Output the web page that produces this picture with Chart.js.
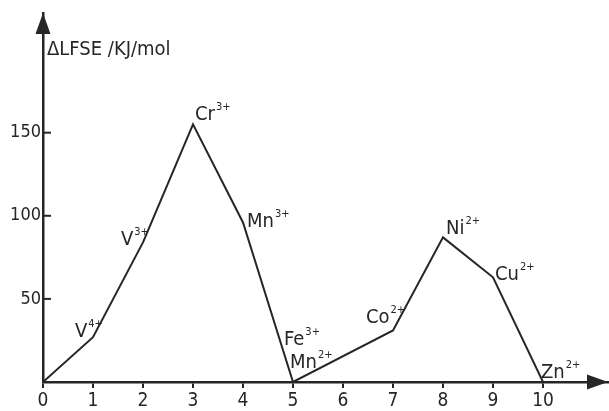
<!DOCTYPE html>
<html>
<head>
<meta charset="utf-8">
<script src="https://cdn.jsdelivr.net/npm/chart.js@4"></script>
<style>
  html, body { margin: 0; padding: 0; background: #fff; }
  #wrap { width: 609px; height: 411px; position: relative; }
</style>
</head>
<body>
<div id="wrap"><canvas id="myChart"></canvas></div>
<script>
// d-electron count of the ions vs. ligand field stabilisation energy
const electronCounts = [0, 1, 2, 3, 4, 5, 7, 8, 9, 10];
const lfseValues = [0, 27, 84, 155, 96, 0, 31, 87, 63, 0];
const ionSymbols = ['', 'V', 'V', 'Cr', 'Mn', ['Fe', 'Mn'], 'Co', 'Ni', 'Cu', 'Zn'];
const ionCharges = ['', '4+', '3+', '3+', '3+', ['3+', '2+'], '2+', '2+', '2+', '2+'];
const xTickValues = [0, 1, 2, 3, 4, 5, 6, 7, 8, 9, 10];
const yTickValues = [50, 100, 150];
const yAxisTitle = 'ΔLFSE /KJ/mol';

// label placement relative to its point (pixels)
const labelOffsets = [
    null,
    [{ dx: -18, dy: 0 }],
    [{ dx: -22, dy: 3 }],
    [{ dx: 2, dy: -4 }],
    [{ dx: 4, dy: 5 }],
    [{ dx: -9, dy: -37 }, { dx: -3, dy: -14 }],
    [{ dx: -27, dy: -7 }],
    [{ dx: 3, dy: -3 }],
    [{ dx: 2, dy: 3 }],
    [{ dx: -2, dy: -4 }]
];

const ink = '#262626';
const fontFamily = '"DejaVu Sans Condensed", "DejaVu Sans", sans-serif';

const decorPlugin = {
    id: 'decor',
    afterDraw(chart) {
        const ctx = chart.ctx;
        const xs = chart.scales.x;
        const ys = chart.scales.y;
        const area = chart.chartArea;
        ctx.save();
        ctx.fillStyle = ink;
        ctx.strokeStyle = ink;

        // inward y tick marks
        ctx.lineWidth = 2;
        yTickValues.forEach(v => {
            const y = ys.getPixelForValue(v);
            ctx.beginPath();
            ctx.moveTo(area.left, y);
            ctx.lineTo(area.left + 8, y);
            ctx.stroke();
        });

        // arrow heads
        const ox = xs.getPixelForValue(0);
        const oy = ys.getPixelForValue(0);
        ctx.beginPath();
        ctx.moveTo(ox, area.top);
        ctx.lineTo(ox - 7.5, area.top + 21);
        ctx.lineTo(ox + 7.5, area.top + 21);
        ctx.closePath();
        ctx.fill();
        ctx.beginPath();
        ctx.moveTo(area.right - 1, oy);
        ctx.lineTo(area.right - 22, oy - 7.5);
        ctx.lineTo(area.right - 22, oy + 7.5);
        ctx.closePath();
        ctx.fill();

        // axis title
        ctx.font = '20px ' + fontFamily;
        ctx.textBaseline = 'alphabetic';
        ctx.textAlign = 'left';
        ctx.fillText(yAxisTitle, ox + 4, 55);

        // ion labels
        const meta = chart.getDatasetMeta(0);
        meta.data.forEach((pt, i) => {
            if (!labelOffsets[i]) return;
            const syms = [].concat(ionSymbols[i]);
            const chs = [].concat(ionCharges[i]);
            syms.forEach((s, k) => {
                const off = labelOffsets[i][k];
                const bx = pt.x + off.dx;
                const by = pt.y + off.dy;
                ctx.font = '20px ' + fontFamily;
                ctx.fillText(s, bx, by);
                const w = ctx.measureText(s).width;
                ctx.font = '11px ' + fontFamily;
                ctx.fillText(chs[k], bx + w + 1, by - 10);
            });
        });
        ctx.restore();
    }
};

const ctx = document.getElementById('myChart').getContext('2d');
new Chart(ctx, {
    type: 'line',
    data: {
        datasets: [{
            data: electronCounts.map((x, i) => ({ x: x, y: lfseValues[i] })),
            borderColor: ink,
            borderWidth: 2,
            pointRadius: 0,
            tension: 0,
            fill: false
        }]
    },
    options: {
        animation: false,
        responsive: true,
        maintainAspectRatio: false,
        layout: { padding: { top: 13, right: 0, left: 0, bottom: 0 } },
        plugins: { legend: { display: false }, tooltip: { enabled: false } },
        scales: {
            x: {
                type: 'linear',
                min: 0,
                max: 11.32,
                afterBuildTicks: s => { s.ticks = xTickValues.map(v => ({ value: v })); },
                afterFit: s => { s.height = 29; },
                grid: { drawOnChartArea: false, tickLength: 6, color: ink, lineWidth: 2 },
                border: { display: true, color: ink, width: 2.5 },
                ticks: {
                    color: ink,
                    padding: 2,
                    maxRotation: 0,
                    font: { family: fontFamily, size: 19 }
                }
            },
            y: {
                type: 'linear',
                min: 0,
                max: 222,
                afterBuildTicks: s => { s.ticks = yTickValues.map(v => ({ value: v })); },
                afterFit: s => { s.width = 43; },
                grid: { drawOnChartArea: false, drawTicks: false },
                border: { display: true, color: ink, width: 2.5 },
                ticks: {
                    color: ink,
                    padding: 2,
                    font: { family: fontFamily, size: 18 }
                }
            }
        }
    },
    plugins: [decorPlugin]
});
</script>
</body>
</html>
